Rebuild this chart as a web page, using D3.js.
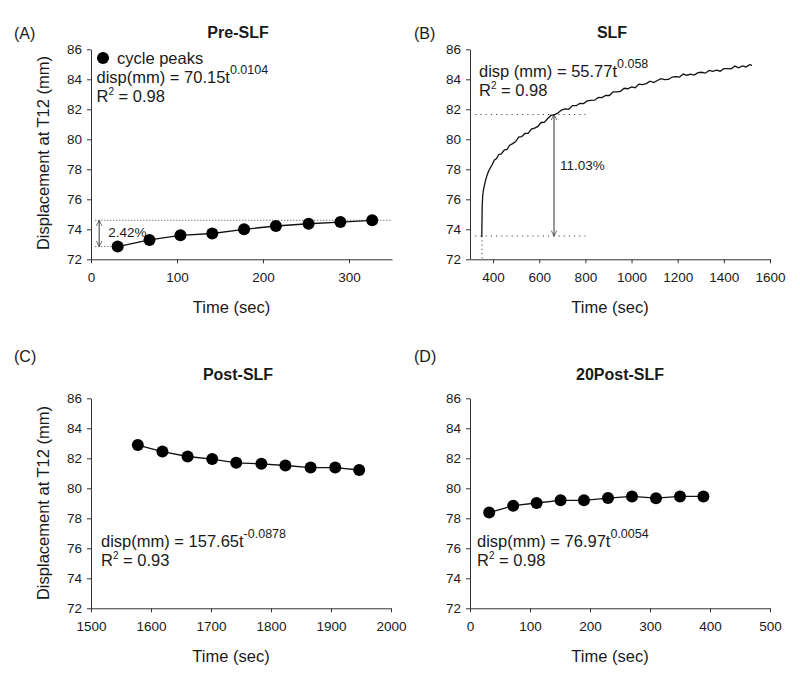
<!DOCTYPE html>
<html><head><meta charset="utf-8">
<script src="https://cdn.jsdelivr.net/npm/d3@7"></script>
<style>
body{margin:0;background:#fff;}
text{font-family:"Liberation Sans",Arial,Helvetica,sans-serif;fill:#1a1a1a;}
</style></head><body>
<svg id="c" width="800" height="676"></svg>
<script>
// ---------- data ----------
const yTicks = [72,74,76,78,80,82,84,86];

const aTime = [31,68,104,141,178,215,253,290,327];
const aDisp = [72.85,73.29,73.6,73.72,74.0,74.22,74.37,74.48,74.6];
const aXTicks = [0,100,200,300];

const bTime = [351,352,353,355,358,362,367,373,380,388,396,405,415,425,436,448,460,472,485,498,511,524,538,552,566,580,594,608,622,636,650,664,680,696,712,728,744,760,776,792,808,824,840,856,872,888,904,920,936,952,968,984,1000,1016,1032,1048,1064,1080,1096,1112,1128,1144,1160,1176,1192,1208,1224,1240,1256,1272,1288,1304,1320,1336,1352,1368,1384,1400,1416,1432,1448,1464,1480,1496,1512,1522];
const bDisp = [73.5,74.6,75.6,76.2,76.6,76.9,77.25,77.55,77.85,78.1,78.3,78.6,78.71,78.99,79.03,79.28,79.32,79.61,79.71,79.85,80.15,80.17,80.39,80.39,80.68,80.75,80.86,81.12,81.13,81.37,81.59,81.63,81.74,81.95,82.03,82.0,82.25,82.24,82.39,82.38,82.56,82.6,82.61,82.79,82.78,82.93,82.92,83.16,83.16,83.2,83.4,83.37,83.49,83.44,83.68,83.65,83.71,83.87,83.78,83.92,84.04,83.98,83.99,84.15,84.18,84.15,84.35,84.27,84.34,84.28,84.44,84.47,84.41,84.59,84.53,84.61,84.54,84.71,84.71,84.7,84.88,84.77,84.89,84.82,84.98,84.93];
const bXTicks = [400,600,800,1000,1200,1400,1600];

const cTime = [1578,1619,1661,1702,1742,1784,1824,1866,1907,1947];
const cDisp = [82.88,82.45,82.12,81.95,81.7,81.63,81.52,81.38,81.38,81.22];
const cXTicks = [1500,1600,1700,1800,1900,2000];

const dTime = [32,72,111,151,190,230,270,310,350,389];
const dDisp = [78.38,78.84,79.02,79.2,79.2,79.35,79.46,79.34,79.46,79.46];
const dXTicks = [0,100,200,300,400,500];

// ---------- drawing ----------
const svg = d3.select("#c");
const defs = svg.append("defs");
defs.append("marker").attr("id","arr").attr("viewBox","0 0 10 10")
  .attr("refX",9).attr("refY",5).attr("markerWidth",7).attr("markerHeight",7)
  .attr("orient","auto-start-reverse").attr("markerUnits","userSpaceOnUse")
  .append("path").attr("d","M1,1 L9,5 L1,9").attr("fill","none").attr("stroke","#333").attr("stroke-width",1);

function panel(o){
  const x = d3.scaleLinear().domain(o.xDom).range([o.x0,o.x1]);
  const y = d3.scaleLinear().domain([72,86]).range([o.y0,o.y1]);
  const g = svg.append("g");
  const ax = g.append("g").attr("transform",`translate(0,${o.y0})`)
    .call(d3.axisBottom(x).tickValues(o.xTicks).tickSize(4).tickSizeOuter(0).tickPadding(9).tickFormat(d3.format("d")));
  const ay = g.append("g").attr("transform",`translate(${o.x0},0)`)
    .call(d3.axisLeft(y).tickValues(yTicks).tickSize(4).tickSizeOuter(0).tickPadding(5));
  [ax,ay].forEach(a=>{
    a.selectAll("path,line").attr("stroke","#333");
    a.selectAll("text").style("font-size","13.5px").attr("fill","#1a1a1a");
  });
  g.append("text").attr("x",o.lx).attr("y",o.ly).style("font-size","16px").text(o.label);
  g.append("text").attr("x",o.tx).attr("y",o.ty).attr("text-anchor","middle")
    .style("font-size","16px").style("font-weight","bold").text(o.title);
  g.append("text").attr("x",(o.x0+o.x1)/2 - 10).attr("y",o.y0+54).attr("text-anchor","middle")
    .style("font-size","16.5px").text("Time (sec)");
  if(o.ylab){
    g.append("text").attr("transform",`translate(49,${o.ylabY}) rotate(-90)`)
      .attr("text-anchor","middle").style("font-size","16.5px").text("Displacement at T12 (mm)");
  }
  return {g,x,y};
}

function equation(g, xPos, yPos, main, sup, r2){
  const t = g.append("text").attr("x",xPos).attr("y",yPos).style("font-size","16.5px");
  t.append("tspan").text(main);
  t.append("tspan").attr("dy",-9).style("font-size","12.5px").text(sup);
  const r = g.append("text").attr("x",xPos).attr("y",yPos+19).style("font-size","16.5px");
  r.append("tspan").text("R");
  r.append("tspan").attr("dy",-7).style("font-size","10px").text("2");
  r.append("tspan").attr("dy",7).text(" = " + r2);
}

function points(p, T, V){
  const line = d3.line().x((d,i)=>p.x(T[i])).y((d,i)=>p.y(V[i]));
  p.g.append("path").datum(V).attr("d",line).attr("fill","none").attr("stroke","#111").attr("stroke-width",1.3);
  p.g.selectAll(null).data(V).enter().append("circle")
    .attr("cx",(d,i)=>p.x(T[i])).attr("cy",d=>p.y(d)).attr("r",6).attr("fill","#000");
}

function dotted(p, x1,v1,x2,v2,dash){
  p.g.append("line").attr("x1",p.x(x1)).attr("y1",p.y(v1)).attr("x2",p.x(x2)).attr("y2",p.y(v2))
    .attr("stroke","#444").attr("stroke-width",1).attr("stroke-dasharray",dash||"1,3");
}
function arrow(p, xv, v1, v2){
  p.g.append("line").attr("x1",p.x(xv)).attr("y1",p.y(v1)).attr("x2",p.x(xv)).attr("y2",p.y(v2))
    .attr("stroke","#333").attr("stroke-width",1)
    .attr("marker-start","url(#arr)").attr("marker-end","url(#arr)");
}

// Panel A
const A = panel({x0:91,x1:392,y0:259.3,y1:49.3,xDom:[0,350],xTicks:aXTicks,label:"(A)",lx:14,ly:39,
  title:"Pre-SLF",tx:238,ty:38,ylab:true,ylabY:153});
dotted(A, 5, aDisp[aDisp.length-1], 350, aDisp[aDisp.length-1], "1,2");
dotted(A, 5, aDisp[0], 28, aDisp[0], "1,2");
arrow(A, 9.5, aDisp[aDisp.length-1], aDisp[0]);
A.g.append("text").attr("x",A.x(20)).attr("y",A.y(73.5)).style("font-size","13.5px").text("2.42%");
points(A, aTime, aDisp);
A.g.append("circle").attr("cx",103).attr("cy",58).attr("r",6).attr("fill","#000");
A.g.append("text").attr("x",117).attr("y",64).style("font-size","16.5px").text("cycle peaks");
equation(A.g, 96.5, 83, "disp(mm) = 70.15t", "0.0104", "0.98");

// Panel B
const B = panel({x0:470,x1:770,y0:259.3,y1:49.3,xDom:[300,1600],xTicks:bXTicks,label:"(B)",lx:414,ly:39,
  title:"SLF",tx:612,ty:38,ylab:false});
dotted(B, 300, 81.65, 800, 81.65, "1.2,4");
dotted(B, 300, 73.55, 800, 73.55, "1.2,4");
dotted(B, 352, 73.55, 352, 72, "1.2,3");
arrow(B, 664, 81.65, 73.55);
B.g.append("text").attr("x",B.x(690)).attr("y",B.y(77.95)).style("font-size","13.5px").text("11.03%");
const bLine = d3.line().x((d,i)=>B.x(bTime[i])).y((d,i)=>B.y(bDisp[i]));
B.g.append("path").datum(bDisp).attr("d",bLine).attr("fill","none").attr("stroke","#111").attr("stroke-width",1.3);
equation(B.g, 479, 77, "disp (mm) = 55.77t", "0.058", "0.98");

// Panel C
const C = panel({x0:91,x1:391,y0:608.3,y1:398.3,xDom:[1500,2000],xTicks:cXTicks,label:"(C)",lx:14,ly:362,
  title:"Post-SLF",tx:238,ty:380,ylab:true,ylabY:503});
points(C, cTime, cDisp);
equation(C.g, 101, 546.5, "disp(mm) = 157.65t", "-0.0878", "0.93");

// Panel D
const D = panel({x0:470,x1:770,y0:608.3,y1:398.3,xDom:[0,500],xTicks:dXTicks,label:"(D)",lx:414,ly:362,
  title:"20Post-SLF",tx:620,ty:380,ylab:false});
points(D, dTime, dDisp);
equation(D.g, 477, 546.5, "disp(mm) = 76.97t", "0.0054", "0.98");
</script>
</body></html>
